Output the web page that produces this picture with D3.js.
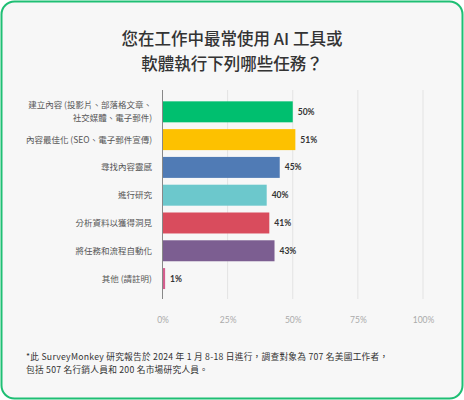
<!DOCTYPE html>
<html>
<head>
<meta charset="utf-8">
<script src="https://cdn.jsdelivr.net/npm/d3@7.9.0/dist/d3.min.js"></script>
<style>
  html, body { margin: 0; padding: 0; background: #fff; }
  svg { display: block; font-family: "Noto Sans CJK TC", "Noto Sans", sans-serif; }
</style>
</head>
<body>
<div id="chart"></div>
<script>
// data
const categories = [
  ['建立內容 (投影片、部落格文章、', '社交媒體、電子郵件)'],
  ['內容最佳化 (SEO、電子郵件宣傳)'],
  ['尋找內容靈感'],
  ['進行研究'],
  ['分析資料以獲得洞見'],
  ['將任務和流程自動化'],
  ['其他 (請註明)']
];
const values = [50, 51, 45, 40, 41, 43, 1];
const colors = ['#00bf6f', '#fdc100', '#507bb5', '#6cc8cc', '#d94c5d', '#7c5e91', '#d45e8e'];
const ticks = [0, 25, 50, 75, 100];
const titleLines = ['您在工作中最常使用 AI 工具或', '軟體執行下列哪些任務？'];
const noteLines = [
  '*此 SurveyMonkey 研究報告於 2024 年 1 月 8-18 日進行，調查對象為 707 名美國工作者，',
  '包括 507 名行銷人員和 200 名市場研究人員。'
];

const width = 464;
const height = 400;

const svg = d3.select('#chart')
  .append('svg')
  .attr('width', width)
  .attr('height', height);

// card
svg.append('rect')
  .attr('x', 1.5).attr('y', 1.5)
  .attr('width', width - 3).attr('height', height - 3)
  .attr('rx', 13)
  .attr('fill', '#f7f7f7')
  .attr('stroke', '#1fbf74')
  .attr('stroke-width', 2);

// title
svg.append('g')
  .selectAll('text')
  .data(titleLines)
  .join('text')
  .attr('x', 232)
  .attr('y', (d, i) => 45 + i * 25)
  .attr('text-anchor', 'middle')
  .attr('font-size', 16.5)
  .attr('font-weight', 500)
  .attr('fill', '#333')
  .text(d => d);

const plot = { left: 162.5, right: 423, top: 90, bottom: 299 };

const x = d3.scaleLinear()
  .domain([0, 100])
  .range([plot.left, plot.right]);

const y = d3.scaleBand()
  .domain(d3.range(categories.length))
  .range([98, 98 + 27.77 * categories.length])
  .paddingInner(0.245)
  .paddingOuter(0.12);

// gridlines
svg.append('g')
  .selectAll('line')
  .data(ticks.slice(1))
  .join('line')
  .attr('x1', d => x(d)).attr('x2', d => x(d))
  .attr('y1', plot.top).attr('y2', plot.bottom)
  .attr('stroke', '#e3e3e3')
  .attr('stroke-width', 1);

// bars
svg.append('g')
  .selectAll('rect')
  .data(values)
  .join('rect')
  .attr('x', x(0))
  .attr('y', (d, i) => y(i))
  .attr('width', d => x(d) - x(0))
  .attr('height', y.bandwidth())
  .attr('fill', (d, i) => colors[i]);

// zero axis line
svg.append('line')
  .attr('x1', x(0)).attr('x2', x(0))
  .attr('y1', plot.top).attr('y2', plot.bottom)
  .attr('stroke', '#888')
  .attr('stroke-width', 1);

// value labels
svg.append('g')
  .selectAll('text')
  .data(values)
  .join('text')
  .attr('x', d => x(d) + 5)
  .attr('y', (d, i) => y(i) + y.bandwidth() / 2)
  .attr('dy', '0.35em')
  .attr('font-size', 8.5)
  .attr('font-weight', 700)
  .attr('fill', '#333')
  .attr('font-family', 'Lato, "Noto Sans", sans-serif')
  .text(d => d + '%');

// category labels
const catG = svg.append('g')
  .selectAll('text')
  .data(categories)
  .join('text')
  .attr('x', 152)
  .attr('y', (d, i) => y(i) + y.bandwidth() / 2 - (d.length - 1) * 6.6)
  .attr('text-anchor', 'end')
  .attr('font-size', 8.5)
  .attr('fill', '#555');

catG.selectAll('tspan')
  .data(d => d)
  .join('tspan')
  .attr('x', 152)
  .attr('dy', (d, i) => i === 0 ? '0.35em' : 13.2)
  .text(d => d);

// x axis tick labels
const xAxis = d3.axisBottom(x)
  .tickValues(ticks)
  .tickSize(0)
  .tickPadding(0)
  .tickFormat(d => d + '%');

const axisG = svg.append('g')
  .attr('transform', `translate(0, 317)`)
  .call(xAxis);
axisG.select('.domain').remove();
axisG.selectAll('text')
  .attr('font-size', 8.5)
  .attr('fill', '#aaa')
  .attr('font-family', 'Lato, "Noto Sans", sans-serif');

// footnote, one paragraph wrapped in two lines
svg.append('text')
  .attr('x', 26)
  .attr('y', 360.3)
  .attr('font-size', 8.7)
  .attr('fill', '#333')
  .style('letter-spacing', '0.25px')
  .selectAll('tspan')
  .data(noteLines)
  .join('tspan')
  .attr('x', 26)
  .attr('dy', (d, i) => i === 0 ? 0 : 12.7)
  .text(d => d);
</script>
</body>
</html>
